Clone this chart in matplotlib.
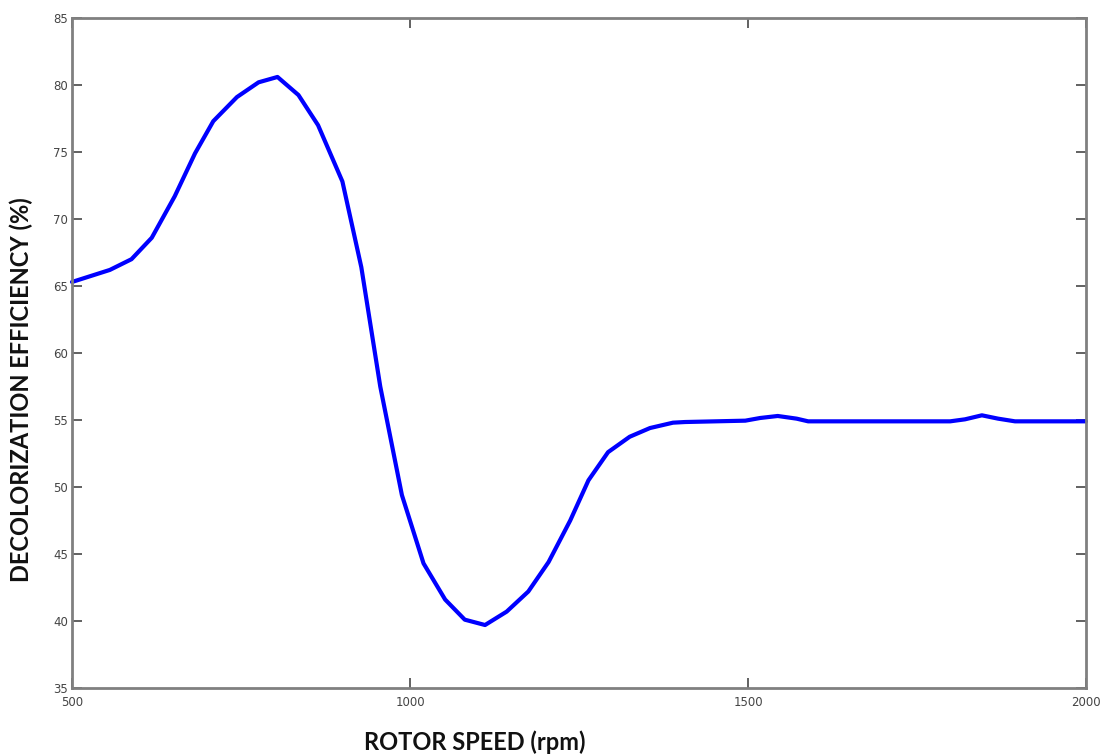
import matplotlib
matplotlib.use("Agg")
import matplotlib.pyplot as plt

rotor_speed = [500, 556, 588, 618, 652, 682, 709, 744, 776, 804, 835, 864, 900,
               928, 956, 988, 1020, 1052, 1081, 1111, 1143, 1175, 1205, 1237,
               1264, 1293, 1325, 1355, 1389, 1407, 1496, 1518, 1544, 1572, 1589,
               1799, 1821, 1846, 1870, 1895, 2000]
efficiency = [65.3, 66.2, 67.0, 68.6, 71.7, 74.9, 77.3, 79.1, 80.2, 80.6, 79.25,
              77.0, 72.8, 66.4, 57.5, 49.4, 44.3, 41.6, 40.1, 39.7, 40.7, 42.2,
              44.4, 47.5, 50.5, 52.6, 53.75, 54.4, 54.8, 54.85, 54.95, 55.15,
              55.3, 55.1, 54.9, 54.9, 55.05, 55.35, 55.1, 54.9, 54.9]
x_ticks = [500, 1000, 1500, 2000]
y_ticks = [35, 40, 45, 50, 55, 60, 65, 70, 75, 80, 85]

fig = plt.figure(figsize=(11.04, 7.56), dpi=100)
ax = fig.add_axes([72/1104, 1-688/756, (1086-72)/1104, (688-18)/756])

ax.plot(rotor_speed, efficiency, color="#0000FF", linewidth=3.0,
        solid_joinstyle="round", solid_capstyle="round", clip_on=False)

ax.set_xlim(500, 2000)
ax.set_ylim(35, 85)
ax.set_xticks(x_ticks)
ax.set_yticks(y_ticks)
ax.tick_params(direction="in", length=7, width=1.3, color="#555555",
               labelsize=8.5, labelcolor="#444444", top=True, right=True)
ax.tick_params(axis="x", pad=6)
ax.tick_params(axis="y", pad=3)
for sp in ax.spines.values():
    sp.set_color("#808080")
    sp.set_linewidth(2)

ax.set_xlabel("ROTOR SPEED (rpm)", fontsize=17, fontweight="bold",
              family=["Lato", "DejaVu Sans"], color="#111111")
ax.set_ylabel("DECOLORIZATION EFFICIENCY (%)", fontsize=17, fontweight="bold",
              family=["Lato", "DejaVu Sans"], color="#111111")
ax.xaxis.set_label_coords((475 - 72) / 1014, -(730 - 688) / 670)
ax.yaxis.set_label_coords(-(72 - 33) / 1014, (688 - 390) / 670)

fig.savefig("out.png", dpi=100)
